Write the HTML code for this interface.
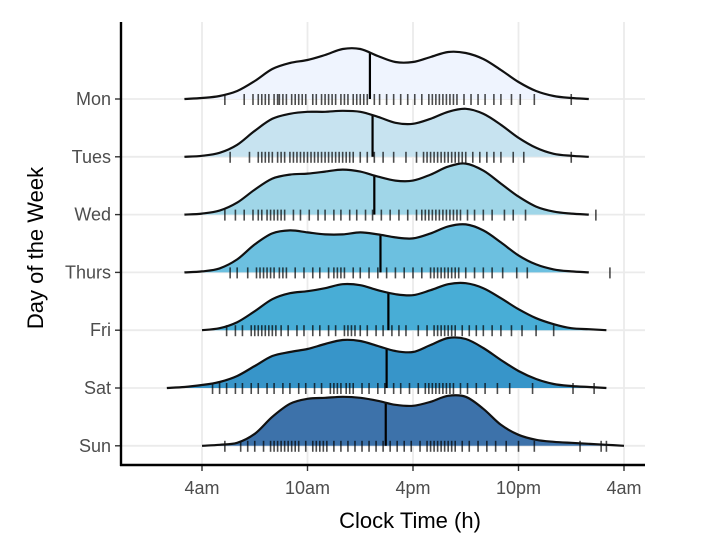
<!DOCTYPE html>
<html><head><meta charset="utf-8"><style>
html,body{margin:0;padding:0;background:#fff;}
svg text{font-family:"Liberation Sans",sans-serif;}
</style></head><body>
<svg id="chart" width="715" height="539" viewBox="0 0 715 539" xmlns="http://www.w3.org/2000/svg">
<rect x="0" y="0" width="715" height="539" fill="#fff"/>
<g id="grid"></g>
<g id="ridges"></g>
<g id="axes"></g>
<text x="410" y="528" text-anchor="middle" font-size="22" fill="#000">Clock Time (h)</text>
<text x="0" y="0" transform="translate(43,248) rotate(-90)" text-anchor="middle" font-size="22" fill="#000">Day of the Week</text>
</svg>
<script>
const days = ["Mon","Tues","Wed","Thurs","Fri","Sat","Sun"];
const colors = ["#eff4fe","#c7e3f0","#a0d6e8","#6cc0e0","#48add6","#3795c9","#3d72aa"];
const hours = [2,3,4,5,6,7,8,9,10,11,12,13,14,15,16,17,18,19,20,21,22,23,24,25,26,27,28,29];
const densMon   = [0,0,1,3,8,18,30,36,39,44,50,50,43,37,37,42,47,46,40,29,17,8,3,1,0,0,0,0];
const densTues  = [0,0,1,4,12,26,38,43,45,45,46,45,40,34,33,38,45,48,43,32,19,9,3,1,0,0,0,0];
const densWed   = [0,0,1,4,12,25,36,40,41,43,45,43,38,34,34,40,48,51,44,31,18,8,3,1,0,0,0,0];
const densThurs = [0,0,1,4,13,28,39,42,40,38,38,40,38,35,34,39,46,48,42,30,17,8,3,1,0,0,0,0];
const densFri   = [0,0,0,2,8,19,31,37,39,42,46,45,40,36,35,40,46,47,42,32,21,12,6,2,1,0,0,0];
const densSat   = [0,1,3,6,12,22,32,36,39,44,48,47,42,37,36,43,50,49,40,28,17,9,4,2,1,0,0,0];
const densSun   = [0,0,0,1,3,12,29,42,47,48,49,48,45,41,40,44,50,49,37,21,11,6,4,3,2,1,0,0];
const densities = [densMon,densTues,densWed,densThurs,densFri,densSat,densSun];
const medians = [13.55,13.7,13.8,14.15,14.6,14.5,14.45];
const rugMon   = [5.3,6.4,6.9,7.2,7.4,7.6,7.8,8.1,8.3,8.4,8.6,8.8,9.1,9.3,9.5,9.7,9.9,10.3,10.5,10.8,11.0,11.2,11.4,11.6,11.9,12.1,12.3,12.6,12.8,13.0,13.2,13.4,13.8,14.1,14.5,14.9,15.3,15.7,16.1,16.5,16.9,17.1,17.3,17.5,17.7,17.9,18.1,18.3,18.5,18.9,19.3,19.7,20.1,20.6,21.0,21.6,22.1,22.9,25.0];
const rugTues  = [5.6,6.7,7.2,7.4,7.6,7.8,8.0,8.3,8.5,8.7,9.0,9.2,9.4,9.6,9.8,10.0,10.2,10.4,10.6,10.8,11.0,11.2,11.4,11.6,11.8,12.0,12.2,12.4,12.6,13.0,13.4,13.8,14.3,14.9,15.6,16.2,16.6,16.8,17.0,17.2,17.4,17.6,17.8,18.0,18.2,18.4,18.6,18.8,19.0,19.4,19.8,20.2,20.6,21.0,21.7,22.3,25.0];
const rugWed   = [5.3,5.9,6.4,6.9,7.2,7.4,7.7,7.9,8.1,8.3,8.5,8.7,9.2,9.6,10.1,10.6,11.0,11.5,11.9,12.4,12.8,13.3,13.7,14.2,14.7,15.2,15.7,16.2,16.5,16.7,16.9,17.1,17.3,17.5,17.7,17.9,18.1,18.3,18.5,18.7,19.1,19.5,20.0,20.5,21.2,21.7,22.4,26.4];
const rugThurs = [5.6,6.0,6.6,7.1,7.3,7.5,7.7,7.9,8.1,8.4,8.6,8.8,9.3,9.8,10.3,10.7,11.2,11.5,11.7,11.9,12.1,12.6,13.0,13.5,14.0,14.5,15.0,15.5,16.0,16.5,17.0,17.2,17.4,17.6,17.8,18.0,18.2,18.4,18.6,19.0,19.5,20.0,20.5,21.1,21.9,22.5,27.2];
const rugFri   = [5.4,5.9,6.3,6.8,7.0,7.2,7.4,7.6,7.8,8.0,8.2,8.5,8.9,9.4,9.8,10.3,10.7,11.2,11.6,12.1,12.3,12.5,12.7,13.0,13.4,13.9,14.3,14.8,15.2,15.6,16.3,16.8,17.2,17.4,17.6,17.8,18.0,18.2,18.4,18.8,19.2,19.6,20.0,20.5,21.0,21.6,22.2,23.0,24.0];
const rugSat   = [4.6,5.0,5.4,5.9,6.3,6.8,7.2,7.7,8.1,8.6,9.0,9.5,9.9,10.4,10.8,11.3,11.5,11.7,11.9,12.2,12.4,12.6,13.1,13.5,14.0,14.4,14.9,15.3,15.8,16.3,16.7,16.9,17.1,17.3,17.5,17.7,17.9,18.1,18.3,18.7,19.1,19.6,20.1,20.8,21.5,22.8,25.1,26.3];
const rugSun   = [5.3,6.2,6.6,7.0,7.5,7.9,8.1,8.3,8.5,8.7,8.9,9.1,9.3,9.5,9.9,10.3,10.5,10.7,10.9,11.1,11.5,11.9,12.3,12.7,13.1,13.5,13.9,14.3,14.7,15.1,15.5,15.9,16.4,16.8,17.0,17.2,17.4,17.6,17.8,18.0,18.2,18.4,18.8,19.2,19.7,20.2,20.7,21.3,22.0,22.9,25.5,26.7,27.0];
const rugs = [rugMon,rugTues,rugWed,rugThurs,rugFri,rugSat,rugSun];
const xTickVals = [4,10,16,22,28];
const xTickLabels = ["4am","10am","4pm","10pm","4am"];

const NS="http://www.w3.org/2000/svg";
const xScale = h => 202 + (h-4)*(105.5/6);
const yBase = i => 99 + i*57.8;
const yScale = d => d*1.0;
function mk(tag, attrs, parent){const e=document.createElementNS(NS,tag);for(const k in attrs)e.setAttribute(k,attrs[k]);parent.appendChild(e);return e;}
const grid=document.getElementById('grid'), ridges=document.getElementById('ridges'), axes=document.getElementById('axes');
xTickVals.forEach((v,i)=>{
  const g=mk('line',{x1:xScale(v),x2:xScale(v),y1:22,y2:465,stroke:'#ebebeb','stroke-width':1.8},grid);
  
  
});
days.forEach((d,i)=>{
  const g=mk('line',{x1:121,x2:645,y1:yBase(i),y2:yBase(i),stroke:'#ebebeb','stroke-width':1.8},grid);
  
  
});
function smoothPath(pts){
  let p='M'+pts[0][0]+','+pts[0][1];
  for(let i=0;i<pts.length-1;i++){
    const p0=pts[Math.max(0,i-1)],p1=pts[i],p2=pts[i+1],p3=pts[Math.min(pts.length-1,i+2)];
    const c1=[p1[0]+(p2[0]-p0[0])/6,p1[1]+(p2[1]-p0[1])/6];
    const c2=[p2[0]-(p3[0]-p1[0])/6,p2[1]-(p3[1]-p1[1])/6];
    p+=' C'+c1[0].toFixed(1)+','+c1[1].toFixed(1)+' '+c2[0].toFixed(1)+','+c2[1].toFixed(1)+' '+p2[0].toFixed(1)+','+p2[1].toFixed(1);
  }
  return p;
}
days.forEach((d,i)=>{
  const dens=densities[i], base=yBase(i);
  let s=0;while(s<dens.length-1&&dens[s+1]===0)s++;
  let e=dens.length-1;while(e>0&&dens[e-1]===0)e--;
  const pts=[];
  for(let k=s;k<=e;k++)pts.push([xScale(hours[k]),base-yScale(dens[k])]);
  const line=smoothPath(pts);
  const g=mk('g',{},ridges);
  
  
  const fill=mk('path',{d:line+' Z',fill:colors[i],stroke:'none'},g);
  
  
  rugs[i].forEach(t=>{
    const r=mk('line',{x1:xScale(t),x2:xScale(t),y1:base-5,y2:base+6,stroke:'#000','stroke-width':1.6,'stroke-opacity':0.7},g);
    
    
  });
  const m=medians[i];let k=0;while(k<hours.length-1&&hours[k+1]<m)k++;
  const f=(m-hours[k])/(hours[k+1]-hours[k]);
  const dm=dens[k]+(dens[k+1]-dens[k])*f;
  const ml=mk('line',{x1:xScale(m),x2:xScale(m),y1:base,y2:base-yScale(dm),stroke:'#000','stroke-width':2.2},g);
  
  
  const out=mk('path',{d:line,fill:'none',stroke:'#111','stroke-width':2.2},g);
  
  
  const lab=mk('text',{x:111,y:base+6,'text-anchor':'end','font-size':18,fill:'#4d4d4d'},axes);
  lab.textContent=d;
  
  
  const tk=mk('line',{x1:115,x2:121,y1:base,y2:base,stroke:'#333','stroke-width':1.4},axes);
  
  
});
xTickVals.forEach((v,i)=>{
  const tk=mk('line',{x1:xScale(v),x2:xScale(v),y1:465,y2:471,stroke:'#333','stroke-width':1.4},axes);
  
  
  const t=mk('text',{x:xScale(v),y:494,'text-anchor':'middle','font-size':18,fill:'#4d4d4d'},axes);
  t.textContent=xTickLabels[i];
  
  
});
const ya=mk('line',{x1:121,x2:121,y1:22,y2:466,stroke:'#000','stroke-width':2.4},axes);


const xa=mk('line',{x1:120,x2:645,y1:465,y2:465,stroke:'#000','stroke-width':2.4},axes);


</script>
</body></html>
